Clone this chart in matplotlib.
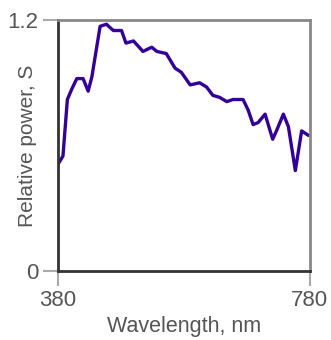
import matplotlib
matplotlib.use("Agg")
import matplotlib.pyplot as plt

# Relative spectral power
wavelength = [380, 388, 395, 402, 410, 420, 428, 434, 441, 447, 457, 468, 481,
              488, 500, 515, 529, 537, 552, 566, 576, 590, 605, 616, 626, 637,
              648, 658, 674, 682, 690, 698, 709, 721, 727, 738, 746, 757, 767, 777]
power = [0.51, 0.55, 0.82, 0.87, 0.92, 0.92, 0.86, 0.93, 1.06, 1.17, 1.18, 1.15,
         1.15, 1.09, 1.10, 1.05, 1.07, 1.05, 1.04, 0.97, 0.95, 0.89, 0.90, 0.88,
         0.84, 0.83, 0.81, 0.82, 0.82, 0.77, 0.70, 0.71, 0.75, 0.63, 0.67, 0.75,
         0.69, 0.48, 0.67, 0.65]

x_ticks = [380, 780]
y_ticks = [0, 1.2]

plt.rcParams['font.family'] = ['Liberation Sans', 'DejaVu Sans']

fig = plt.figure(figsize=(3.31, 3.40), dpi=100)
ax = fig.add_axes([0.175, 0.203, 0.761, 0.738])

ax.plot(wavelength, power, color="#330099", linewidth=2.4, solid_joinstyle="round")

ax.set_xlim(380, 780)
ax.set_ylim(0, 1.2)
ax.set_xticks(x_ticks)
ax.set_xticklabels(["380", "780"])
ax.set_yticks(y_ticks)
ax.set_yticklabels(["0", "1.2"])

for side in ["left", "bottom"]:
  ax.spines[side].set_color("#333333")
  ax.spines[side].set_linewidth(2.0)
for side in ["top", "right"]:
  ax.spines[side].set_color("#888888")
  ax.spines[side].set_linewidth(2.0)

ax.tick_params(length=11, width=1.5, color="#aaaaaa", labelcolor="#555555",
               labelsize=16, pad=3)
ax.set_xlabel("Wavelength, nm", fontsize=15.5, color="#555555", labelpad=3)
ax.set_ylabel("Relative power, S", fontsize=15, color="#555555", labelpad=-21)

fig.savefig("out.png", dpi=100)
